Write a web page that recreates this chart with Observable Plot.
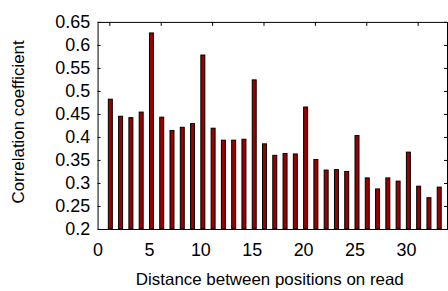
<!DOCTYPE html>
<html>
<head>
<meta charset="utf-8">
<script src="https://cdn.jsdelivr.net/npm/d3@7"></script>
<script src="https://cdn.jsdelivr.net/npm/@observablehq/plot@0.6"></script>
<style>
  html, body { margin: 0; padding: 0; background: #fff; overflow: hidden; }
  #chart svg { display: block; }
</style>
</head>
<body>
<div id="chart"></div>
<script>
// Data
const lags = [1,2,3,4,5,6,7,8,9,10,11,12,13,14,15,16,17,18,19,20,21,22,23,24,25,26,27,28,29,30,31,32,33];
const corr = [0.482,0.445,0.442,0.454,0.626,0.443,0.414,0.421,0.429,0.578,0.419,0.393,0.393,0.395,0.524,0.385,0.360,0.364,0.363,0.465,0.351,0.328,0.329,0.325,0.403,0.311,0.287,0.311,0.304,0.367,0.293,0.268,0.291];
const xTicks = [0,5,10,15,20,25,30];
const yTicks = [0.2,0.25,0.3,0.35,0.4,0.45,0.5,0.55,0.6,0.65];
const topTicks = [1,6,11,16,21,26,31];
const xTitle = "Distance between positions on read";
const yTitle = "Correlation coefficient";

const table = lags.map((k, i) => ({k, r: corr[i]}));

const W = 450, H = 291;
const mL = 98, mR = 1, mT = 22, mB = 61;
const plotW = W - mL - mR, plotH = H - mT - mB;
const font = "'Liberation Sans', Arial, Helvetica, sans-serif";

const chart = Plot.plot({
  width: W,
  height: H,
  marginLeft: mL,
  marginRight: mR,
  marginTop: mT,
  marginBottom: mB,
  style: {fontFamily: font, color: "#000", background: "#fff"},
  x: {domain: [0, 34]},
  y: {domain: [0.2, 0.65]},
  marks: [
    Plot.rectY(table, {
      x1: "k", x2: "k", y1: 0.2, y2: "r",
      insetLeft: -2, insetRight: -2, dx: 2.5,
      fill: "#9a0000", stroke: "#000", strokeWidth: 1
    }),
    Plot.frame({stroke: "#000", strokeWidth: 1}),
    // inward ticks
    Plot.tickY(yTicks, {y: d => d, insetRight: plotW - 3, stroke: "#000"}),
    Plot.tickY(yTicks, {y: d => d, insetLeft: plotW - 3, stroke: "#000"}),
    Plot.tickX(topTicks, {x: d => d, insetBottom: plotH - 4, dx: 1.5, stroke: "#000"}),
    Plot.axisY(yTicks, {
      tickSize: 0, tickPadding: 8, fontSize: 18, label: null,
      tickFormat: d => String(+d.toFixed(2))
    }),
    Plot.axisX(xTicks, {
      tickSize: 0, tickPadding: 14, fontSize: 18, label: null,
      tickFormat: d => String(d)
    }),
    Plot.text([xTitle], {
      text: d => d, frameAnchor: "bottom", dy: 56, dx: -3,
      fontSize: 17, fill: "#000", textAnchor: "middle"
    }),
    Plot.text([yTitle], {
      text: d => d, frameAnchor: "left", rotate: -90, dx: -80, dy: -4,
      fontSize: 17, fill: "#000", textAnchor: "middle"
    })
  ]
});

document.getElementById("chart").appendChild(chart);
</script>
</body>
</html>
